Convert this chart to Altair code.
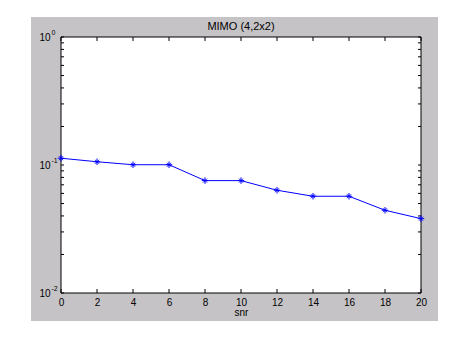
import altair as alt
import pandas as pd

# data
snr = [0, 2, 4, 6, 8, 10, 12, 14, 16, 18, 20]
ber = [0.113, 0.106, 0.1005, 0.1005, 0.0755, 0.0755, 0.0635, 0.057, 0.057, 0.0443, 0.0381]
x_ticks = [0, 2, 4, 6, 8, 10, 12, 14, 16, 18, 20]
y_major = [0.01, 0.1, 1]
y_all = [0.01 * k for k in range(1, 10)] + [0.1 * k for k in range(1, 10)] + [1]

df = pd.DataFrame({"snr": snr, "ber": ber})
one = pd.DataFrame({"k": [0]})
xt = pd.DataFrame({"t": x_ticks})
yt = pd.DataFrame({"t": y_all})

W, H = 360, 256
FONT = "Liberation Sans"
GRAY = "#c6c3c6"
BLUE = "#0000ff"
ASTER = "M-1,0H1M0,-1V1M-0.6,-0.6L0.6,0.6M-0.6,0.6L0.6,-0.6"

xs = alt.Scale(domain=[0, 20], nice=False, zero=False)
ys = alt.Scale(type="log", domain=[0.01, 1], nice=False)

common = dict(grid=False, domain=False, labelFont=FONT, titleFont=FONT,
              labelColor="black", titleColor="black", zindex=1, labelFlush=False,
              labelOverlap=False)

# gray figure background
bg = alt.Chart(one).mark_rect(fill=GRAY, stroke=None).encode(
    x=alt.value(-30), x2=alt.value(W + 17), y=alt.value(-20), y2=alt.value(H + 28)
)
# white axes box
box = alt.Chart(one).mark_rect(fill="white", stroke="black", strokeWidth=1).encode(
    x=alt.value(0), x2=alt.value(W), y=alt.value(0), y2=alt.value(H)
)

main = alt.Chart(df).mark_line(
    color=BLUE, strokeWidth=1,
    point=alt.OverlayMarkDef(shape=ASTER, size=42, filled=False, stroke=BLUE, strokeWidth=1),
).encode(
    x=alt.X("snr:Q", scale=xs, axis=alt.Axis(
        orient="bottom", values=x_ticks, ticks=False, tickSize=0, labelPadding=4,
        labelFontSize=10, title="snr", titleFontSize=10, titleFontWeight="normal",
        titlePadding=0, **common)),
    y=alt.Y("ber:Q", scale=ys, axis=alt.Axis(
        orient="left", values=y_major, ticks=False, tickSize=0, labelPadding=22,
        labelAlign="left", labelBaseline="middle", labelFontSize=10,
        labelExpr="'10'", title=None, **common)),
)

expo = alt.Chart(df).mark_point(opacity=0, size=0).encode(
    x=alt.X("snr:Q", scale=xs, axis=None),
    y=alt.Y("ber:Q", scale=ys, axis=alt.Axis(
        orient="left", values=y_major, ticks=False, tickSize=0, labelPadding=10,
        labelAlign="left", labelBaseline="middle", labelFontSize=7, labelOffset=-5,
        labelExpr="datum.value >= 0.99 ? '0' : (datum.value >= 0.099 ? '-1' : '-2')",
        title=None, **common)),
)

# inward tick marks (MATLAB style) on all four sides
XL, YL = 4, 3
tick_bottom = alt.Chart(xt).mark_rule(color="black", strokeWidth=1).encode(
    x=alt.X("t:Q", scale=xs, axis=None), y=alt.value(H), y2=alt.value(H - XL))
tick_top = alt.Chart(xt).mark_rule(color="black", strokeWidth=1).encode(
    x=alt.X("t:Q", scale=xs, axis=None), y=alt.value(0), y2=alt.value(XL))
tick_left = alt.Chart(yt).mark_rule(color="black", strokeWidth=1).encode(
    y=alt.Y("t:Q", scale=ys, axis=None), x=alt.value(0), x2=alt.value(YL))
tick_right = alt.Chart(yt).mark_rule(color="black", strokeWidth=1).encode(
    y=alt.Y("t:Q", scale=ys, axis=None), x=alt.value(W - YL), x2=alt.value(W))

chart = alt.layer(bg, box, tick_bottom, tick_top, tick_left, tick_right, main, expo).resolve_scale(
    x="independent", y="independent"
).properties(
    width=W, height=H,
    title=alt.TitleParams("MIMO (4,2x2)", font=FONT, fontSize=11, fontWeight="normal",
                          color="black", anchor="middle", frame="group", offset=-15),
    padding={"left": 61, "top": 37, "right": 472 - 61 - W, "bottom": 353 - 37 - H},
    autosize=alt.AutoSizeParams(type="none"),
    background="white",
).configure_view(stroke=None)

chart.save("out.html", embed_options={"renderer": "svg", "actions": False})
